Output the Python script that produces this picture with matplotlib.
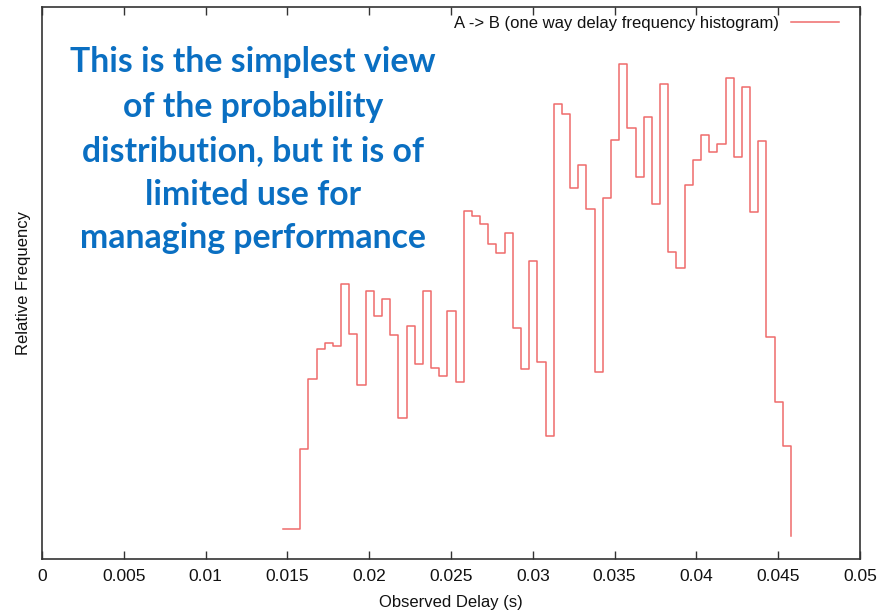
import matplotlib
matplotlib.use("Agg")
import matplotlib.pyplot as plt

# One way delay histogram, A -> B (step outline, bin start -> relative frequency)
delay_s = [
    0.01475, 0.01578, 0.01628, 0.01678, 0.01728, 0.01778, 0.01828, 0.01878,
    0.01928, 0.01978, 0.02028, 0.02078, 0.02128, 0.02178, 0.02228, 0.02278,
    0.02328, 0.02378, 0.02428, 0.02478, 0.02528, 0.02578, 0.02628, 0.02678,
    0.02728, 0.02778, 0.02828, 0.02878, 0.02928, 0.02978, 0.03028, 0.03078,
    0.03128, 0.03178, 0.03228, 0.03278, 0.03328, 0.03378, 0.03428, 0.03478,
    0.03528, 0.03578, 0.03628, 0.03678, 0.03728, 0.03778, 0.03828, 0.03878,
    0.03928, 0.03978, 0.04028, 0.04078, 0.04128, 0.04178, 0.04228, 0.04278,
    0.04328, 0.04378, 0.04428, 0.04478, 0.04528, 0.04578,
]
rel_freq = [
    5.4, 20.0, 32.6, 38.0, 39.2, 38.6, 49.8, 40.8,
    31.5, 48.5, 44.1, 47.1, 40.5, 25.5, 42.3, 35.3,
    48.5, 34.6, 33.1, 45.0, 32.0, 63.0, 62.2, 60.6,
    57.0, 55.5, 59.0, 41.8, 34.5, 53.9, 35.7, 22.3,
    82.5, 80.7, 67.3, 71.3, 63.4, 33.8, 65.4, 75.9,
    89.7, 78.0, 69.2, 80.1, 64.4, 86.0, 55.6, 52.8,
    67.8, 72.2, 76.8, 73.7, 75.1, 87.2, 72.9, 85.5,
    62.9, 75.7, 40.2, 28.4, 20.4, 4.2,
]
x_ticks = [0, 0.005, 0.01, 0.015, 0.02, 0.025, 0.03, 0.035, 0.04, 0.045, 0.05]
x_tick_labels = ["0", "0.005", "0.01", "0.015", "0.02", "0.025", "0.03",
                 "0.035", "0.04", "0.045", "0.05"]
series_label = "A -> B (one way delay frequency histogram)"
note_lines = [
    "This is the simplest view",
    "of the probability",
    "distribution, but it is of",
    "limited use for",
    "managing performance",
]

W, H = 883, 613
fig = plt.figure(figsize=(W / 100, H / 100), dpi=100)
fig.patch.set_facecolor("white")

# axes box in pixel coordinates
left, right, top, bottom = 42, 860, 7, 559
ax = fig.add_axes([left / W, 1 - bottom / H, (right - left) / W, (bottom - top) / H])

ax.step(delay_s, rel_freq, where="post", color="#ef6b6b", lw=1.1)

ax.set_xlim(0, 0.05)
ax.set_ylim(0, 100)
ax.set_xticks(x_ticks)
ax.set_xticklabels(x_tick_labels)
ax.set_yticks([])
ax.tick_params(axis="x", direction="in", length=6, width=1.0, color="#333333",
               top=True, labelsize=12.5, pad=7, labelcolor="#111111")
for lab in ax.get_xticklabels():
    lab.set_fontfamily("Liberation Sans")
for sp in ax.spines.values():
    sp.set_color("#333333")
    sp.set_linewidth(1.2)

ax.set_xlabel("Observed Delay (s)", fontsize=12, family="Liberation Sans",
              color="#111111", labelpad=8)
fig.text(24 / W, 1 - 283 / H, "Relative Frequency", rotation=90, ha="center",
         va="center", fontsize=12, family="Liberation Sans", color="#111111")

# key entry in the upper right corner
fig.text(779 / W, 1 - 23.5 / H, series_label, ha="right", va="center",
         fontsize=12, family="Liberation Sans", color="#111111")
ax.plot([0.0458, 0.0487], [97.2, 97.2], color="#ef6b6b", lw=1.1)

# annotation text
baselines = [72, 116.5, 161, 205, 248]
for line, yb in zip(note_lines, baselines):
    fig.text(253 / W, 1 - yb / H, line, ha="center", va="baseline",
             fontsize=24.3, family="Lato", fontweight="bold", color="#0a6fc2")

fig.savefig("out.png", dpi=100)
